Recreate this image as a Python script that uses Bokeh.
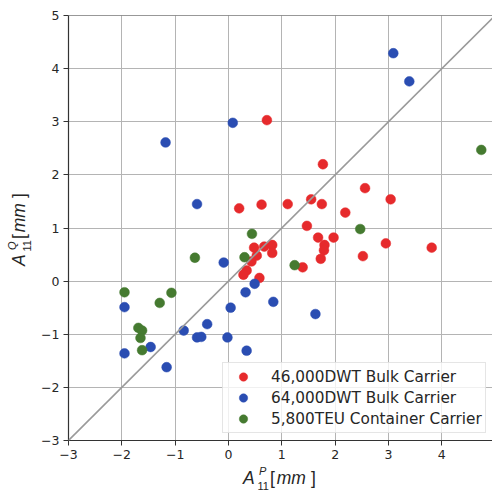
from bokeh.embed import file_html
from bokeh.models import (CustomJSTickFormatter, Div, FixedTicker, GridBox,
                          Legend, LegendItem, Range1d, Slope, Span)
from bokeh.plotting import figure
from bokeh.resources import INLINE

# Amplitude pairs (A11^P, A11^Q) in mm for each vessel
bulk46_p = [0.72, 1.77, 2.56, 3.04, 1.55, 1.75, 1.11, 0.62, 0.20, 2.19, 1.47, 1.68,
            1.97, 1.80, 1.79, 1.73, 2.95, 3.81, 2.52, 1.39, 0.48, 0.67, 0.82, 0.82,
            0.53, 0.43, 0.34, 0.28, 0.58]
bulk46_q = [3.03, 2.20, 1.75, 1.54, 1.54, 1.45, 1.45, 1.44, 1.37, 1.29, 1.04, 0.82,
            0.82, 0.68, 0.58, 0.42, 0.71, 0.63, 0.47, 0.26, 0.63, 0.65, 0.68, 0.53,
            0.48, 0.37, 0.20, 0.12, 0.06]

bulk64_p = [3.09, 3.39, 0.08, -1.18, -0.59, -0.09, 0.49, 0.32, 0.04, 0.84, 1.63,
            -1.95, -0.40, -0.84, -0.59, -0.51, -0.02, -1.46, -1.95, -1.16, 0.34]
bulk64_q = [4.29, 3.76, 2.98, 2.61, 1.45, 0.35, -0.05, -0.21, -0.50, -0.39, -0.62,
            -0.49, -0.81, -0.93, -1.06, -1.05, -1.06, -1.24, -1.36, -1.62, -1.31]

teu_p = [4.74, 2.47, 1.24, 0.44, 0.30, -0.63, -1.95, -1.07, -1.29, -1.69, -1.62,
         -1.65, -1.62]
teu_q = [2.47, 0.98, 0.30, 0.89, 0.45, 0.44, -0.21, -0.22, -0.41, -0.88, -0.93,
         -1.07, -1.30]

series_names = ["46,000DWT Bulk Carrier", "64,000DWT Bulk Carrier",
                "5,800TEU Container Carrier"]
series_colors = ["#e62a2c", "#2a4db2", "#457a30"]

x_ticks = [-3, -2, -1, 0, 1, 2, 3, 4]
y_ticks = [-3, -2, -1, 0, 1, 2, 3, 4, 5]

FONT = "DejaVu Sans"
INK = "#262626"
W, H = 492, 491

p = figure(width=W, height=H, output_backend="svg", toolbar_location=None,
           x_range=Range1d(-3, 4.95), y_range=Range1d(-3, 5),
           min_border_left=68, min_border_right=0, min_border_top=15,
           min_border_bottom=51)
p.outline_line_color = None
p.background_fill_color = "white"
p.border_fill_color = "white"

minus = CustomJSTickFormatter(
    code="return tick < 0 ? '\\u2212' + Math.abs(tick) : String(tick);")
for ax, ticks in ((p.xaxis, x_ticks), (p.yaxis, y_ticks)):
    ax.ticker = FixedTicker(ticks=ticks)
    ax.formatter = minus
    ax.axis_line_color = "#333333"
    ax.axis_line_width = 1.2
    ax.major_tick_line_color = "#333333"
    ax.major_tick_out = 5
    ax.major_tick_in = 0
    ax.minor_tick_out = 0
    ax.minor_tick_in = 0
    ax.major_label_text_font = FONT
    ax.major_label_text_font_size = "12.5px"
    ax.major_label_text_color = INK
    ax.major_label_standoff = 4
    ax.axis_label = None

p.grid.grid_line_color = "#b4b4b4"
p.grid.grid_line_width = 1
p.xgrid.ticker = FixedTicker(ticks=x_ticks)
p.ygrid.ticker = FixedTicker(ticks=y_ticks)

# top spine
p.add_layout(Span(location=5, dimension="width", line_color="#333333",
                  line_width=1.2))

# y = x reference line
p.add_layout(Slope(gradient=1, y_intercept=0, line_color="#9a9a9a",
                   line_width=1.6))

renderers = []
for xs, ys, col in ((bulk46_p, bulk46_q, series_colors[0]),
                    (bulk64_p, bulk64_q, series_colors[1]),
                    (teu_p, teu_q, series_colors[2])):
    r = p.scatter(xs, ys, size=9.8, fill_color=col, line_color=col,
                  line_width=0.5)
    renderers.append(r)

legend = Legend(items=[LegendItem(label=n, renderers=[r])
                       for n, r in zip(series_names, renderers)],
                location=(154, 7), padding=3, spacing=0, margin=0,
                glyph_width=34, glyph_height=21, label_height=21,
                label_standoff=11, label_text_font=FONT,
                label_text_font_size="15.3px", label_text_color=INK,
                border_line_color="#cccccc", border_line_width=1,
                background_fill_color="white", background_fill_alpha=0.8)
p.add_layout(legend)

# Axis titles with sub- and superscripts, set as SVG text on a layer
# stacked over the plot. Offsets are relative to the start of "A" on
# its baseline.
MAIN, SMALL = 17.5, 11
title_pieces = [
    # text, dx, dy, size, italic
    ("A", 0, 0, MAIN, True),
    ("11", 14.5, 6, SMALL, False),
    ("P", 16, -9.5, SMALL, True),
    ("[", 27, 0, MAIN, False),
    ("mm", 33.8, 0, MAIN, True),
    ("]", 67.9, 0, MAIN, False),
]


def title_svg(pieces, x0, y0, rotate=False):
    out = []
    for text, dx, dy, size, italic in pieces:
        style = ' font-style="italic"' if italic else ""
        out.append(f'<text x="{x0 + dx}" y="{y0 + dy}" font-size="{size}"'
                   f'{style}>{text}</text>')
    body = "".join(out)
    if rotate:
        body = f'<g transform="rotate(-90 {x0} {y0})">{body}</g>'
    return body


x_title = [(t, dx, dy, s, it) for t, dx, dy, s, it in title_pieces]
y_title = [("Q" if t == "P" else t, dx, dy, s, it)
           for t, dx, dy, s, it in title_pieces]

svg = (f'<svg xmlns="http://www.w3.org/2000/svg" width="{W}" height="{H}" '
       f'style="display:block" font-family="{FONT}" fill="{INK}">'
       + title_svg(x_title, 243, 484)
       + title_svg(y_title, 25, 266, rotate=True)
       + "</svg>")

titles = Div(text=svg, width=W, height=H,
             styles={"pointer-events": "none", "margin": "0", "padding": "0"})

page = GridBox(children=[(p, 0, 0), (titles, 0, 0)])

open("out.html", "w").write(file_html(page, INLINE))
